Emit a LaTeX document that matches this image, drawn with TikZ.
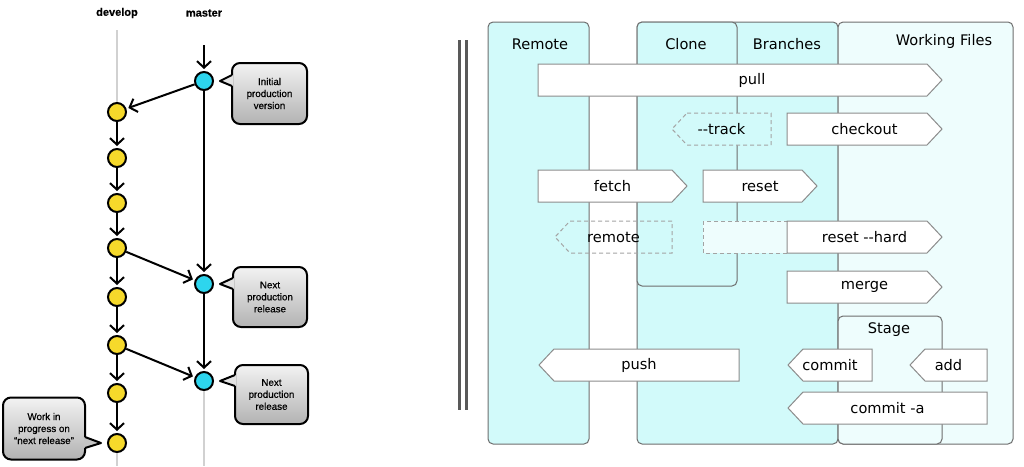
\documentclass[tikz,border=0pt]{standalone}
\usepackage{fontspec}
\usetikzlibrary{positioning,calc,arrows.meta}
\newfontfamily\gitfont{DejaVu Sans}
\newfontfamily\flowfont{Liberation Sans}[FakeBold=0.6]

\definecolor{remotecyan}{HTML}{D2FAFA}
\definecolor{workcyan}{HTML}{EEFDFD}
\definecolor{boxedge}{HTML}{6E6E6E}
\definecolor{cmdedge}{HTML}{8C8C8C}
\definecolor{devyellow}{HTML}{F6D92B}
\definecolor{relcyan}{HTML}{2DD5EE}

% command arrows: [label opts]{style}{left x}{top y}{body width}{name}{label}
\newcommand{\cmdright}[7][]{%
  \draw[#2] (#3,#4) -- ++(#5,0) -- ++(15,16) -- ++(-15,16) -- ++(-#5,0) -- cycle;
  \node[cmdlabel,#1] (#6) at ({#3+(#5+15)/2},{#4+16}) {#7};}
\newcommand{\cmdleft}[7][]{%
  \draw[#2] (#3,#4) -- ++(#5,0) -- ++(0,32) -- ++(-#5,0) -- ++(-15,-16) -- cycle;
  \node[cmdlabel,#1] (#6) at ({#3+(#5-15)/2},{#4+16}) {#7};}

\tikzset{
  devnode/.style={circle,draw=black,line width=2pt,fill=devyellow,minimum size=18pt,inner sep=0pt},
  relnode/.style={circle,draw=black,line width=2pt,fill=relcyan,minimum size=18pt,inner sep=0pt},
  flow/.style={line width=2pt,-{Straight Barb[length=6.5pt,width=14pt]},shorten >=2pt},
  trail/.style={line width=2.5pt,draw=black!18},
  bubble/.style={rectangle,rounded corners=8pt,draw=black,line width=2pt,top color=black!5,bottom color=black!30,
    outer sep=0pt,align=center,inner sep=2pt,font=\flowfont\fontsize{9.8}{12}\selectfont},
  ptr/.style={draw=black,line width=2pt,line join=round},
  branchname/.style={font=\flowfont\bfseries\fontsize{11}{13}\selectfont},
  gitbox/.style={draw=boxedge,line width=1pt,rounded corners=5pt},
  boxtitle/.style={font=\gitfont\fontsize{14.6}{16}\selectfont,inner sep=0pt},
  cmdlabel/.style={font=\gitfont\fontsize{14.6}{16}\selectfont,inner sep=0pt},
  cmd/.style={draw=cmdedge,fill=white,line width=1pt},
  cmdghost/.style={draw=cmdedge!80,dashed,dash pattern=on 4pt off 3pt,line width=1pt}
}

\begin{document}
\begin{tikzpicture}[x=1pt,y=-1pt]
\useasboundingbox (0,0) rectangle (1024,466);

% branching model
\node[branchname] (devname) at (117,13) {develop};
\node[branchname] (mastername) at (204,13) {master};

\node[relnode] (initn) at (204,81) {};
\node[relnode] (rel1n) at (204,284) {};
\node[relnode] (rel2n) at (204,381) {};
\node[devnode] (dev1) at (117,112) {};
\node[devnode] (dev2) at (117,158) {};
\node[devnode] (dev3) at (117,203) {};
\node[devnode] (dev4) at (117,248) {};
\node[devnode] (dev5) at (117,297) {};
\node[devnode] (dev6) at (117,345) {};
\node[devnode] (dev7) at (117,393) {};
\node[devnode] (dev8) at (117,443) {};

\coordinate (devtop) at (117,30);
\coordinate (devbot) at (117,466);
\coordinate (mtop) at (204,45);
\coordinate (mbot) at (204,466);
\draw[trail] (devtop) -- (dev1);
\draw[trail] (dev8) -- (devbot);
\draw[trail] (rel2n) -- (mbot);

\draw[flow] (mtop) -- (initn);
\draw[flow] (initn) -- (rel1n);
\draw[flow] (rel1n) -- (rel2n);
\draw[flow] (initn) -- (dev1);
\draw[flow] (dev1) -- (dev2);
\draw[flow] (dev2) -- (dev3);
\draw[flow] (dev3) -- (dev4);
\draw[flow] (dev4) -- (dev5);
\draw[flow] (dev5) -- (dev6);
\draw[flow] (dev6) -- (dev7);
\draw[flow] (dev7) -- (dev8);
\draw[flow] (dev4) -- (rel1n);
\draw[flow] (dev6) -- (rel2n);

\node[bubble,minimum width=75pt,minimum height=61pt] (initc) at (269.5,93.5) {Initial\\production\\version};
\node[bubble,minimum width=74pt,minimum height=60pt] (rel1c) at (270,297) {Next\\production\\release};
\node[bubble,minimum width=73pt,minimum height=59pt] (rel2c) at (271.5,394.5) {Next\\production\\release};
\node[bubble,minimum width=82pt,minimum height=62pt] (wipc) at (44,428.5) {Work in\\progress on\\“next release”};

\fill[black!11] ($(initc.west |- initn)+(1,-6)$) -- ($(initn.east)+(6,0)$) -- ($(initc.west |- initn)+(1,5)$) -- cycle;
\draw[ptr] ($(initc.west |- initn)+(0,-6)$) -- ($(initn.east)+(6,0)$) -- ($(initc.west |- initn)+(0,5)$);
\fill[black!11] ($(rel1c.west |- rel1n)+(1,-6)$) -- ($(rel1n.east)+(6,0)$) -- ($(rel1c.west |- rel1n)+(1,5)$) -- cycle;
\draw[ptr] ($(rel1c.west |- rel1n)+(0,-6)$) -- ($(rel1n.east)+(6,0)$) -- ($(rel1c.west |- rel1n)+(0,5)$);
\fill[black!11] ($(rel2c.west |- rel2n)+(1,-6)$) -- ($(rel2n.east)+(6,0)$) -- ($(rel2c.west |- rel2n)+(1,5)$) -- cycle;
\draw[ptr] ($(rel2c.west |- rel2n)+(0,-6)$) -- ($(rel2n.east)+(6,0)$) -- ($(rel2c.west |- rel2n)+(0,5)$);
\fill[black!23] ($(wipc.east |- dev8)+(-1,-6)$) -- ($(dev8.west)+(-6,0)$) -- ($(wipc.east |- dev8)+(-1,5)$) -- cycle;
\draw[ptr] ($(wipc.east |- dev8)+(0,-6)$) -- ($(dev8.west)+(-6,0)$) -- ($(wipc.east |- dev8)+(0,5)$);

% separator
\draw[line width=3pt,draw=black!65] (459.5,40) -- (459.5,410);
\draw[line width=3pt,draw=black!65] (466.5,40) -- (466.5,410);

% git areas
\draw[gitbox,fill=remotecyan] (488,22) rectangle (589,444);
\draw[gitbox,fill=remotecyan] (637,22) rectangle (838,444);
\draw[gitbox,fill=workcyan] (838,22) rectangle (1013,444);
\draw[gitbox,fill=remotecyan] (637,22) rectangle (737,286);
\draw[gitbox,fill=workcyan] (838,316) rectangle (942,444);

\node[boxtitle] (remotet) at (540,44) {Remote};
\node[boxtitle] (clonet) at (686,44) {Clone};
\node[boxtitle] (brancht) at (787,44) {Branches};
\node[boxtitle] (workt) at (944,41) {Working Files};
\node[boxtitle] (staget) at (889,330) {Stage};

% commands
\cmdright[xshift=12pt]{cmd}{538}{64}{389}{pullcmd}{pull}
\cmdleft{cmdghost,fill=remotecyan}{687}{113}{84}{trackcmd}{-\kern0pt-track}
\cmdright{cmd}{787}{113}{140}{checkoutcmd}{checkout}
\cmdright{cmd}{538}{170}{134}{fetchcmd}{fetch}
\cmdright{cmd}{703}{170}{99}{resetcmd}{reset}
\cmdleft{cmdghost}{570}{221}{102}{remotecmd}{remote}
\draw[cmdghost,fill=workcyan] (703,221) rectangle (787,253);
\cmdright{cmd}{787}{221}{140}{hardcmd}{reset -\kern0pt-hard}
\cmdright{cmd}{787}{271}{140}{mergecmd}{merge}
\cmdleft{cmd}{554}{349}{185}{pushcmd}{push}
\cmdleft{cmd}{803}{349}{69}{commitcmd}{commit}
\cmdleft{cmd}{925}{349}{62}{addcmd}{add}
\cmdleft{cmd}{803}{392}{184}{commitacmd}{commit -a}
\end{tikzpicture}
\end{document}
